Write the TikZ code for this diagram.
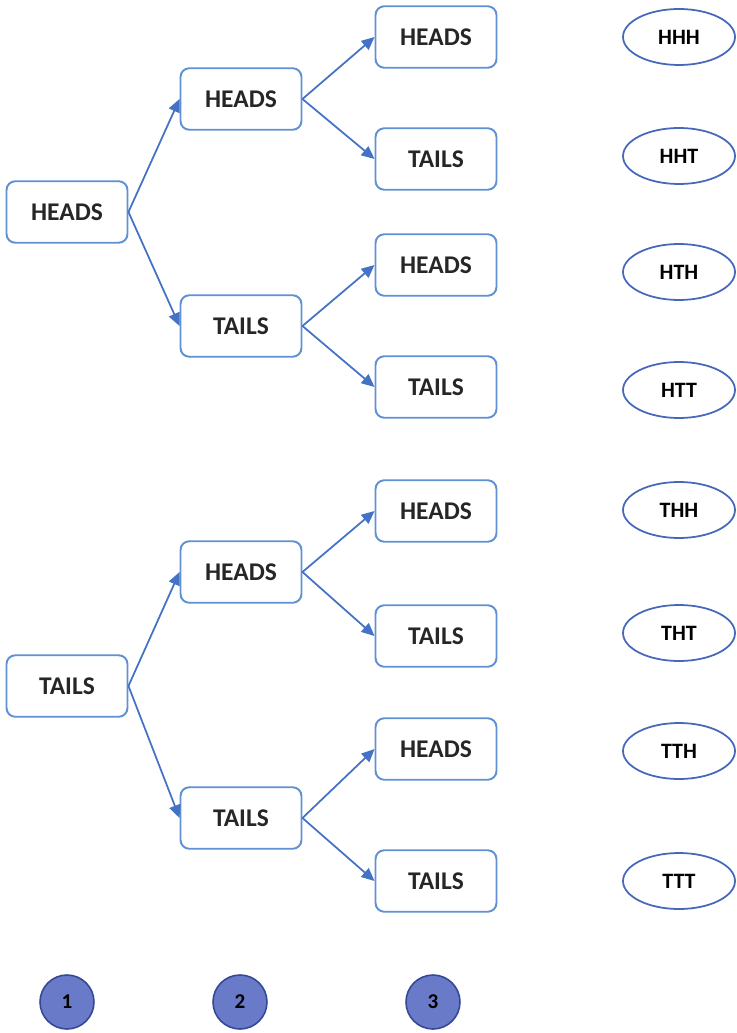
\documentclass[tikz,border=0pt]{standalone}
\usepackage{fontspec}
\setmainfont{Carlito}
\usetikzlibrary{arrows.meta,shapes.geometric}
\definecolor{boxblue}{RGB}{96,145,212}
\definecolor{ovalblue}{RGB}{70,104,186}
\definecolor{arrblue}{RGB}{68,114,196}
\definecolor{ballfill}{RGB}{104,122,200}
\definecolor{balldraw}{RGB}{52,72,150}
\tikzset{
  coin/.style={rectangle, rounded corners=5pt, draw=boxblue, line width=1.1pt, align=center, font=\bfseries\fontsize{14.5}{17}\selectfont, text=black!85, minimum width=2.42cm, minimum height=1.23cm},
  outcome/.style={ellipse, draw=ovalblue, line width=1pt, font=\bfseries\fontsize{12.5}{14}\selectfont, minimum width=2.24cm, minimum height=1.12cm},
  toss/.style={circle, draw=balldraw, fill=ballfill, line width=0.9pt, font=\bfseries\fontsize{12}{14}\selectfont, minimum size=1.08cm, inner sep=0pt},
  arr/.style={-{Triangle[length=2.6mm,width=2.3mm]}, draw=arrblue, fill=arrblue, line width=1pt}
}
\begin{document}
\begin{tikzpicture}[x=0.02cm, y=0.02cm]
\useasboundingbox (0,0) rectangle (736,-1033);
% first toss
\node[coin] (h) at (67,-212) {HEADS};
\node[coin] (t) at (67,-686) {TAILS};
% second toss
\node[coin] (hh) at (241,-99) {HEADS};
\node[coin] (ht) at (241,-326) {TAILS};
\node[coin] (th) at (241,-572) {HEADS};
\node[coin] (tt) at (241,-818) {TAILS};
% third toss
\node[coin] (hhh) at (436,-37) {HEADS};
\node[coin] (hht) at (436,-159) {TAILS};
\node[coin] (hth) at (436,-265) {HEADS};
\node[coin] (htt) at (436,-387) {TAILS};
\node[coin] (thh) at (436,-511) {HEADS};
\node[coin] (tht) at (436,-636) {TAILS};
\node[coin] (tth) at (436,-749) {HEADS};
\node[coin] (ttt) at (436,-881) {TAILS};
% outcomes
\node[outcome] (o1) at (679,-37) {HHH};
\node[outcome] (o2) at (679,-156) {HHT};
\node[outcome] (o3) at (679,-272) {HTH};
\node[outcome] (o4) at (679,-390) {HTT};
\node[outcome] (o5) at (679,-510) {THH};
\node[outcome] (o6) at (679,-633) {THT};
\node[outcome] (o7) at (679,-751) {TTH};
\node[outcome] (o8) at (679,-881) {TTT};
% toss numbers
\node[toss] (n1) at (67,-1002) {1};
\node[toss] (n2) at (240,-1002) {2};
\node[toss] (n3) at (433,-1002) {3};
\foreach \a/\b in {h/hh,h/ht,t/th,t/tt,hh/hhh,hh/hht,ht/hth,ht/htt,th/thh,th/tht,tt/tth,tt/ttt}
  {\draw[arr] (\a.east) -- (\b.west);}
\end{tikzpicture}
\end{document}
